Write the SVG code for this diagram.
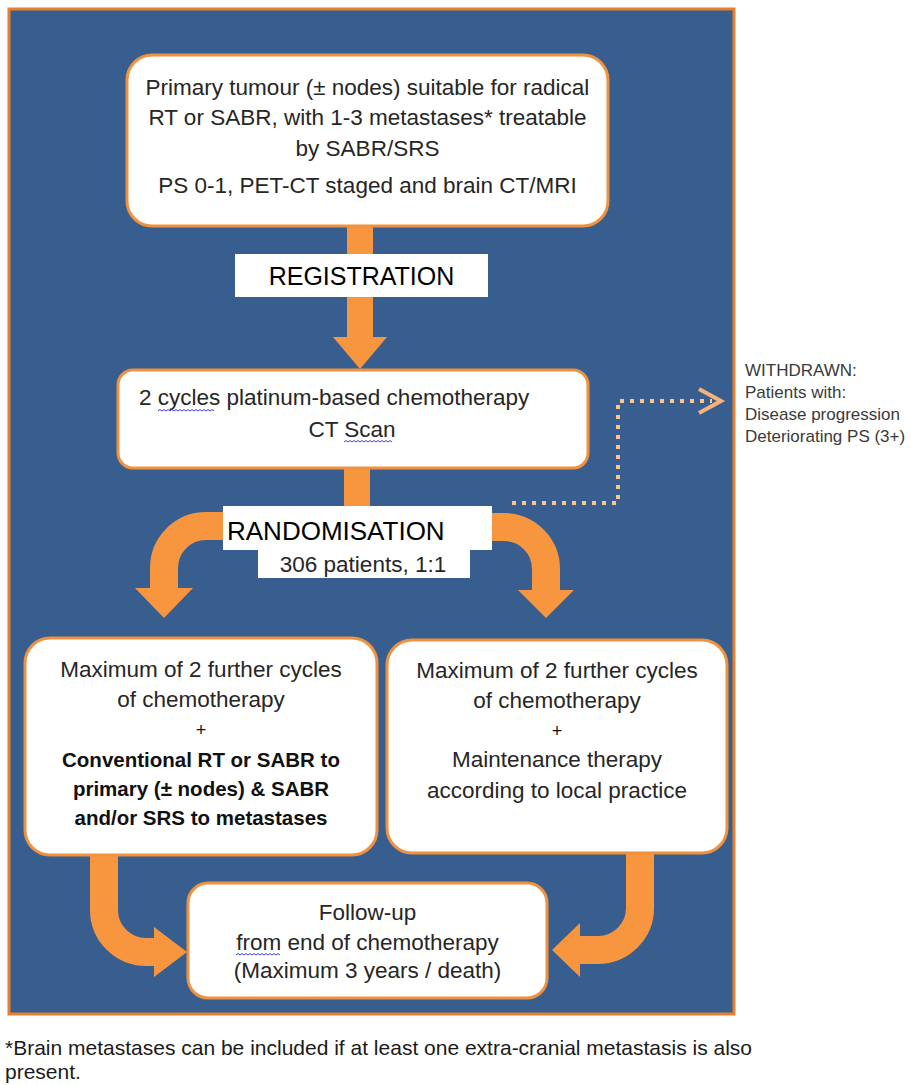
<svg xmlns="http://www.w3.org/2000/svg" width="911" height="1085" viewBox="0 0 911 1085">
<style>
.box{fill:#ffffff;stroke:#f0913f;stroke-width:3}
.t{font-family:"Liberation Sans",Arial,sans-serif;font-size:22.5px;fill:#262626;text-anchor:middle}
.b{font-weight:bold;font-size:20.5px;fill:#111}
.plus{font-size:18px;fill:#111}
.arrow{fill:none;stroke:#f7963f;stroke-width:28}
.head{fill:#f7963f}
.wavy{fill:none;stroke:#3d3dd6;stroke-width:1}
.side{font-family:"Liberation Sans",Arial,sans-serif;font-size:17px;fill:#3a3a3a}
</style>
<rect x="0" y="0" width="911" height="1085" fill="#ffffff"/>
<rect id="panel" x="9" y="9" width="725" height="1005" fill="#375e8f" stroke="#e8802a" stroke-width="3"/>

<g id="connectors">
  <rect x="347" y="224" width="26" height="114" fill="#f7963f"/>
  <polygon class="head" points="333,337 387,337 360,369"/>
  <rect x="344" y="466" width="26" height="48" fill="#f7963f"/>
  <path class="arrow" d="M260 526 L206 526 A42 42 0 0 0 164 568 L164 590"/>
  <polygon class="head" points="135,588 193,588 164,618"/>
  <path class="arrow" stroke-width="27" d="M470 527 L504 527 A42 42 0 0 1 546 569 L546 592"/>
  <polygon class="head" points="518,590 574,590 546,618"/>
  <path d="M512 503 L618 503 L618 401 L712 401" fill="none" stroke="#f9c690" stroke-width="4" stroke-dasharray="4 6"/>
  <polyline points="699,389 721,401 699,413" fill="none" stroke="#f7b27a" stroke-width="4"/>
  <path class="arrow" d="M104 853 L104 910 A42 42 0 0 0 146 952 L156 952"/>
  <polygon class="head" points="154,927 154,977 187,952"/>
  <path class="arrow" stroke-width="26" d="M640 851 L640 908 A42 42 0 0 1 598 950 L578 950"/>
  <polygon class="head" points="580,923 580,977 552,950"/>
</g>

<g id="eligibility">
  <rect class="box" x="127" y="55" width="481" height="171" rx="25"/>
  <text class="t" x="367.5" y="95">Primary tumour (± nodes) suitable for radical</text>
  <text class="t" x="367.5" y="125">RT or SABR, with 1-3 metastases* treatable</text>
  <text class="t" x="367.5" y="156">by SABR/SRS</text>
  <text class="t" x="367.5" y="193">PS 0-1, PET-CT staged and brain CT/MRI</text>
</g>

<g id="registration">
  <rect x="235" y="254" width="253" height="43" fill="#ffffff"/>
  <text class="t" x="361.5" y="285" style="font-size:25px;fill:#000">REGISTRATION</text>
</g>

<g id="chemo">
  <rect class="box" x="118" y="370" width="470" height="98" rx="15"/>
  <text class="t" x="139" y="405" style="text-anchor:start">2 cycles platinum-based chemotherapy</text>
  <text class="t" x="352" y="437">CT Scan</text>
  <path class="wavy" d="M158 411 l2 -1.5 l2 1.5 l2 -1.5 l2 1.5 l2 -1.5 l2 1.5 l2 -1.5 l2 1.5 l2 -1.5 l2 1.5 l2 -1.5 l2 1.5 l2 -1.5 l2 1.5 l2 -1.5 l2 1.5 l2 -1.5 l2 1.5 l2 -1.5 l2 1.5 l2 -1.5 l2 1.5 l2 -1.5 l2 1.5 l2 -1.5 l2 1.5 l2 -1.5 l2 1.5"/>
  <path class="wavy" d="M344 442 l2 -1.5 l2 1.5 l2 -1.5 l2 1.5 l2 -1.5 l2 1.5 l2 -1.5 l2 1.5 l2 -1.5 l2 1.5 l2 -1.5 l2 1.5 l2 -1.5 l2 1.5 l2 -1.5 l2 1.5 l2 -1.5 l2 1.5 l2 -1.5 l2 1.5 l2 -1.5 l2 1.5 l2 -1.5 l2 1.5"/>
</g>

<g id="withdrawn">
  <text class="side" x="745" y="376">WITHDRAWN:</text>
  <text class="side" x="745" y="398">Patients with:</text>
  <text class="side" x="745" y="420">Disease progression</text>
  <text class="side" x="745" y="442">Deteriorating PS (3+)</text>
</g>

<g id="randomisation">
  <rect x="223" y="506" width="269" height="44" fill="#ffffff"/>
  <rect x="258" y="549" width="212" height="29" fill="#ffffff"/>
  <text class="t" x="227" y="540" style="text-anchor:start;font-size:26px;fill:#000">RANDOMISATION</text>
  <text class="t" x="363" y="572">306 patients, 1:1</text>
</g>

<g id="arm-a">
  <rect class="box" x="25" y="638" width="352" height="217" rx="25"/>
  <text class="t" x="201" y="677">Maximum of 2 further cycles</text>
  <text class="t" x="201" y="707">of chemotherapy</text>
  <text class="t plus" x="201" y="736">+</text>
  <text class="t b" x="201" y="767">Conventional RT or SABR to</text>
  <text class="t b" x="201" y="796">primary (± nodes) &amp; SABR</text>
  <text class="t b" x="201" y="825">and/or SRS to metastases</text>
</g>

<g id="arm-b">
  <rect class="box" x="387" y="640" width="340" height="213" rx="25"/>
  <text class="t" x="557" y="678">Maximum of 2 further cycles</text>
  <text class="t" x="557" y="708">of chemotherapy</text>
  <text class="t plus" x="557" y="737">+</text>
  <text class="t" x="557" y="767">Maintenance therapy</text>
  <text class="t" x="557" y="798">according to local practice</text>
</g>

<g id="follow-up">
  <rect class="box" x="188" y="883" width="359" height="115" rx="20"/>
  <text class="t" x="367.5" y="920">Follow-up</text>
  <text class="t" x="367.5" y="950">from end of chemotherapy</text>
  <text class="t" x="367.5" y="978">(Maximum 3 years / death)</text>
  <path class="wavy" d="M236 955 l2 -1.5 l2 1.5 l2 -1.5 l2 1.5 l2 -1.5 l2 1.5 l2 -1.5 l2 1.5 l2 -1.5 l2 1.5 l2 -1.5 l2 1.5 l2 -1.5 l2 1.5 l2 -1.5 l2 1.5 l2 -1.5 l2 1.5 l2 -1.5 l2 1.5 l2 -1.5 l2 1.5"/>
</g>

<g id="footnote">
  <text x="5" y="1055" style="font-family:'Liberation Sans',Arial,sans-serif;font-size:21px;fill:#1a1a1a">*Brain metastases can be included if at least one extra-cranial metastasis is also</text>
  <text x="5" y="1079" style="font-family:'Liberation Sans',Arial,sans-serif;font-size:21px;fill:#1a1a1a">present.</text>
</g>
</svg>
